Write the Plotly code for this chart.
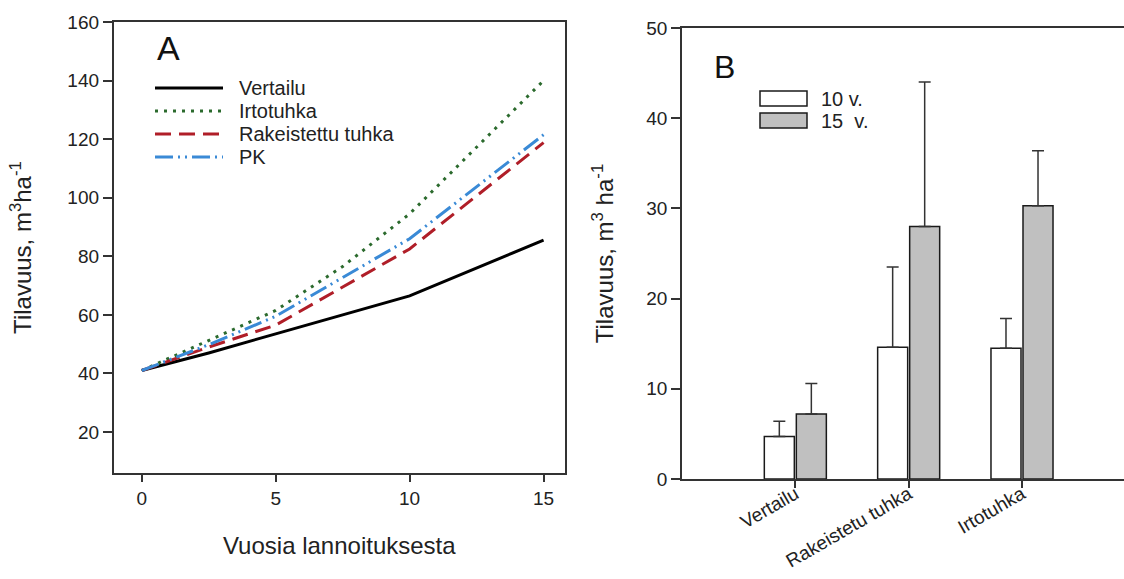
import plotly.graph_objects as go

# ---------------- Panel A data ----------------
years = [0, 2.5, 5, 7.5, 10, 15]
vertailu = [41, 47, 53.5, 60, 66.5, 85.5]
irtotuhka = [41, 51.3, 61.5, 76.5, 94.5, 140]
rakeistettu = [41, 49, 56.5, 69.4, 82.5, 118.8]
pk = [41, 49.8, 59.5, 72.7, 86, 121.5]
series_names_a = ["Vertailu", "Irtotuhka", "Rakeistettu tuhka", "PK"]

# ---------------- Panel B data ----------------
categories_b = ["Vertailu", "Rakeistetu tuhka", "Irtotuhka"]
v10 = [4.7, 14.6, 14.5]
v10_err = [1.7, 8.9, 3.3]
v15 = [7.2, 28.0, 30.3]
v15_err = [3.4, 16.0, 6.1]
legend_b = ["10 v.", "15  v."]

FONT = "Liberation Sans, Arial, sans-serif"
TXT = "#222222"
W, H = 1124, 579


def px_x(p):
    return p / W


def px_y(p):
    return 1 - p / H


fig = go.Figure()

colors_a = ["#000000", "#2b6a2d", "#b01e28", "#3a8ad6"]
dashes_a = ["solid", "3px,6px", "16px,8px", "18px,5px,2px,5px,2px,5px"]
for name, ys, col, dash in zip(series_names_a, [vertailu, irtotuhka, rakeistettu, pk], colors_a, dashes_a):
    fig.add_trace(go.Scatter(
        x=years, y=ys, mode="lines", name=name,
        line=dict(color=col, width=3, dash=dash),
        xaxis="x", yaxis="y", showlegend=False,
    ))

bar_fills = ["#ffffff", "#c0c0c0"]
for vals, errs, fill, lab in zip([v10, v15], [v10_err, v15_err], bar_fills, legend_b):
    fig.add_trace(go.Bar(
        x=categories_b, y=vals, name=lab, xaxis="x2", yaxis="y2",
        marker=dict(color=fill, line=dict(color="#1a1a1a", width=1.5)),
        error_y=dict(type="data", array=errs, arrayminus=[0] * len(errs), symmetric=False,
                     color="#333333", thickness=1.5, width=6),
        showlegend=False,
    ))

axis_common = dict(
    showgrid=False, zeroline=False, showline=True, linecolor="#333333", linewidth=1.5,
    ticks="outside", tickwidth=1.5, tickcolor="#333333", automargin=False,
    tickfont=dict(family=FONT, size=19, color=TXT),
)

fig.update_layout(
    width=W, height=H,
    margin=dict(l=0, r=0, t=0, b=0, pad=0, autoexpand=False),
    paper_bgcolor="white", plot_bgcolor="white",
    font=dict(family=FONT, color=TXT),
    showlegend=False,
    barmode="group", bargap=0.435, bargroupgap=0.0625,
    xaxis=dict(
        domain=[px_x(113.6), px_x(565)], range=[-1.05, 15.8],
        tickvals=[0, 5, 10, 15], mirror=True, anchor="y", ticklen=7,
        title=dict(text="Vuosia lannoituksesta", font=dict(family=FONT, size=24, color=TXT), standoff=30),
        **axis_common,
    ),
    yaxis=dict(
        domain=[px_y(473), px_y(22)], range=[6, 160],
        tickvals=[20, 40, 60, 80, 100, 120, 140, 160], mirror=True, anchor="x", ticklen=9,
        title=dict(text="Tilavuus, m<sup>3</sup>ha<sup>-1</sup>", font=dict(family=FONT, size=24, color=TXT), standoff=29),
        **axis_common,
    ),
    xaxis2=dict(
        domain=[px_x(682), 1.0], range=[-1.0, 2.9], type="category",
        anchor="y2", mirror=True, tickangle=-30, ticklen=7,
        ticklabelstandoff=-12,
        **axis_common,
    ),
    yaxis2=dict(
        domain=[px_y(479), px_y(28)], range=[0, 50],
        tickvals=[0, 10, 20, 30, 40, 50], anchor="x2", ticklen=9,
        title=dict(text="Tilavuus, m<sup>3</sup> ha<sup>-1</sup>", font=dict(family=FONT, size=24, color=TXT), standoff=26),
        **axis_common,
    ),
)

# Panel letters
fig.add_annotation(text="A", x=px_x(168), y=px_y(48), xref="paper", yref="paper",
                   xanchor="center", yanchor="middle",
                   showarrow=False, font=dict(family=FONT, size=34, color="#111111"))
fig.add_annotation(text="B", x=px_x(724.5), y=px_y(67), xref="paper", yref="paper",
                   xanchor="center", yanchor="middle",
                   showarrow=False, font=dict(family=FONT, size=32, color="#111111"))

# Panel A legend (line samples + labels)
legend_rows_a = [88, 111, 134, 157]
for name, col, dash, row in zip(series_names_a, colors_a, dashes_a, legend_rows_a):
    fig.add_shape(type="line", xref="paper", yref="paper",
                  x0=px_x(155), x1=px_x(223), y0=px_y(row), y1=px_y(row),
                  line=dict(color=col, width=3, dash=dash))
    fig.add_annotation(text=name, x=px_x(237), y=px_y(row), xref="paper", yref="paper",
                       xanchor="left", yanchor="middle", showarrow=False,
                       font=dict(family=FONT, size=20, color=TXT))

# Panel B legend (boxes + labels)
box_tops = [91, 113]
for fill, top, label in zip(bar_fills, box_tops, legend_b):
    fig.add_shape(type="rect", xref="paper", yref="paper",
                  x0=px_x(760), x1=px_x(807), y0=px_y(top + 15), y1=px_y(top),
                  fillcolor=fill, line=dict(color="#1a1a1a", width=1.5))
    fig.add_annotation(text=label, x=px_x(819), y=px_y(top + 7.5), xref="paper", yref="paper",
                       xanchor="left", yanchor="middle", showarrow=False,
                       font=dict(family=FONT, size=20, color=TXT))

fig.write_html(
    "out.html",
    config={"displayModeBar": False},
    post_script="document.body.style.margin='0';document.body.style.padding='0';"
                "document.body.style.overflow='hidden';",
)
